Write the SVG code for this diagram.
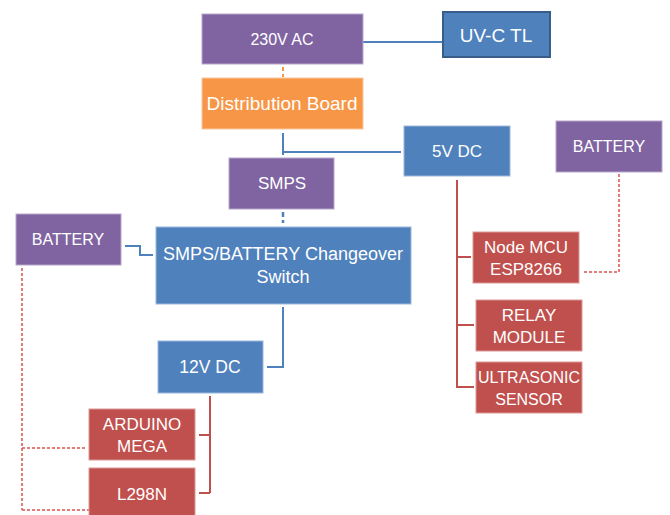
<svg xmlns="http://www.w3.org/2000/svg" width="670" height="515" viewBox="0 0 670 515">
<style>
.t{font-family:"Liberation Sans",Arial,sans-serif;fill:#fff;text-anchor:middle}
.p{fill:#8064a2;stroke:#b7a6cb;stroke-width:1}
.b{fill:#4f81bd;stroke:#9bb8dc;stroke-width:1}
.o{fill:#f79646;stroke:#fac79f;stroke-width:1}
.r{fill:#c0504d;stroke:#dc9896;stroke-width:1}
.cb{fill:none;stroke:#4f81bd;stroke-width:2}
.cr{fill:none;stroke:#c0504d;stroke-width:2}
.cd{fill:none;stroke:#d9534f;stroke-width:1.5;stroke-dasharray:3 2}
.co{fill:none;stroke:#f79646;stroke-width:2;stroke-dasharray:4 3}
.cbd{fill:none;stroke:#4f81bd;stroke-width:2.5;stroke-dasharray:5 3}
</style>
<rect width="670" height="515" fill="#fff"/>
<g id="connectors">
<path class="cb" d="M363 42 H442"/>
<path class="co" d="M283 67 V77"/>
<path class="cb" d="M283 133 V155 M283 152 H401"/>
<path class="cbd" d="M283 212 V223"/>
<path class="cb" d="M125 246 H140 V255 H153"/>
<path class="cb" d="M283 307 V367 H267"/>
<path class="cr" d="M210 396 V493 M210 435 H199 M210 493 H199"/>
<path class="cr" d="M457 180 V388 M457 257 H471 M457 325 H474 M457 387 H474"/>
<path class="cd" d="M22 268 V510 M22 448 H86 M22 510 H89"/>
<path class="cd" d="M619 174 V272 H582"/>
</g>
<g id="n230"><rect class="p" x="202" y="14" width="161" height="50"/><text class="t" x="282" y="45" font-size="16">230V AC</text></g>
<g id="uvc"><rect x="443" y="12" width="107" height="45" fill="#4f81bd" stroke="#385d8a" stroke-width="2"/><text class="t" x="496" y="41.5" font-size="19">UV-C TL</text></g>
<g id="dist"><rect class="o" x="202" y="78" width="161" height="51"/><text class="t" x="282" y="110" font-size="19">Distribution Board</text></g>
<g id="v5"><rect class="b" x="404" y="126" width="106" height="50"/><text class="t" x="457" y="157" font-size="17">5V DC</text></g>
<g id="smps"><rect class="p" x="229" y="158" width="105" height="51"/><text class="t" x="282" y="189" font-size="17">SMPS</text></g>
<g id="batR"><rect class="p" x="556" y="121" width="106" height="51"/><text class="t" x="609" y="152" font-size="16">BATTERY</text></g>
<g id="batL"><rect class="p" x="16" y="214" width="105" height="51"/><text class="t" x="68" y="245" font-size="16">BATTERY</text></g>
<g id="change"><rect class="b" x="156" y="227" width="255" height="77"/><text class="t" x="283" y="260" font-size="18">SMPS/BATTERY Changeover</text><text class="t" x="283" y="283" font-size="18">Switch</text></g>
<g id="v12"><rect class="b" x="158" y="341" width="105" height="52"/><text class="t" x="210" y="373" font-size="17.5">12V DC</text></g>
<g id="mega"><rect class="r" x="89" y="409" width="106" height="51"/><text class="t" x="142" y="430" font-size="17">ARDUINO</text><text class="t" x="142" y="452" font-size="17">MEGA</text></g>
<g id="l298"><rect class="r" x="89" y="468" width="106" height="50"/><text class="t" x="142" y="500" font-size="17">L298N</text></g>
<g id="mcu"><rect class="r" x="473" y="232" width="106" height="51"/><text class="t" x="526" y="253" font-size="17">Node MCU</text><text class="t" x="526" y="275" font-size="17">ESP8266</text></g>
<g id="relay"><rect class="r" x="476" y="300" width="106" height="51"/><text class="t" x="529" y="321" font-size="17">RELAY</text><text class="t" x="529" y="343" font-size="17">MODULE</text></g>
<g id="ultra"><rect class="r" x="476" y="362" width="106" height="51"/><text class="t" x="529" y="383" font-size="16">ULTRASONIC</text><text class="t" x="529" y="405" font-size="16">SENSOR</text></g>
</svg>
